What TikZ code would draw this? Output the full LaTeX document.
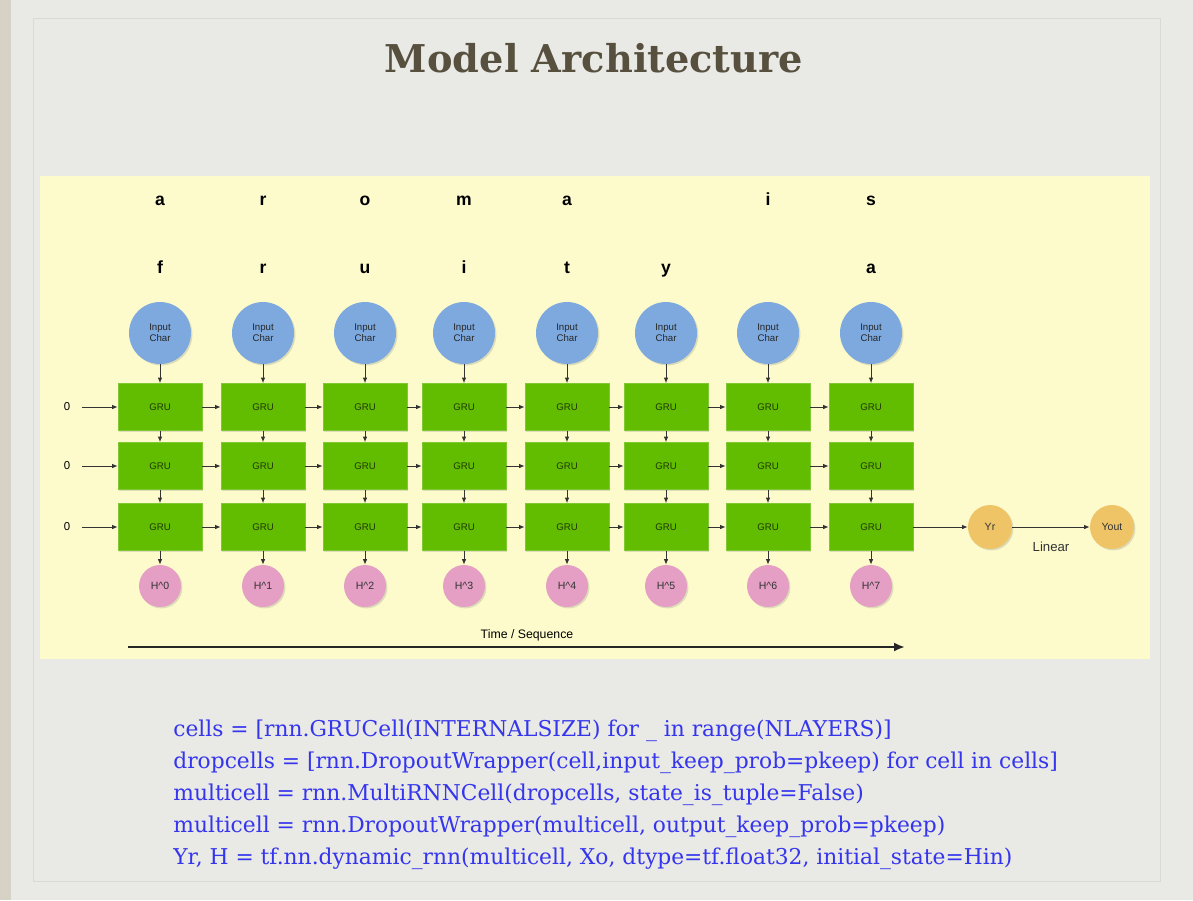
\documentclass[tikz,border=0pt]{standalone}
\usepackage{fontspec}
\setmainfont{Liberation Sans}
\newfontfamily\titlefont{DejaVu Serif}
\newfontfamily\codefont{DejaVu Serif}
\usetikzlibrary{arrows.meta,calc,positioning,shadows}

\definecolor{slidebg}{HTML}{E9E9E5}
\definecolor{slideedge}{HTML}{D6D2C6}
\definecolor{panelbg}{HTML}{FDFBCC}
\definecolor{grufill}{HTML}{62BC00}
\definecolor{grutext}{HTML}{1F3A00}
\definecolor{inblue}{HTML}{7DA9DF}
\definecolor{hpink}{HTML}{E59EC4}
\definecolor{yorange}{HTML}{EFC466}
\definecolor{titlebrown}{HTML}{57503F}
\definecolor{codeblue}{HTML}{3535EE}

\tikzset{
  soft/.style={drop shadow={opacity=0.25,shadow xshift=0.8pt,shadow yshift=-0.8pt}},
  grubox/.style={rectangle,fill=grufill,draw=grufill!80!white,soft,
    minimum width=1.68cm,minimum height=0.94cm,inner sep=0pt,
    text=grutext,font=\fontsize{5.5}{6}\selectfont},
  incirc/.style={circle,fill=inblue,soft,minimum size=1.24cm,inner sep=0pt,
    align=center,text=black!85,font=\fontsize{5.5}{6.5}\selectfont},
  hcirc/.style={circle,fill=hpink,soft,minimum size=0.84cm,inner sep=0pt,
    text=black!80,font=\fontsize{6}{7}\selectfont},
  ycirc/.style={circle,fill=yorange,soft,minimum size=0.88cm,inner sep=0pt,
    text=black!80,font=\fontsize{6}{7}\selectfont},
  letter/.style={text height=1.6ex,text depth=0.2ex,
    font=\bfseries\fontsize{10}{12}\selectfont},
  arr/.style={-{Latex[length=1.1mm,width=0.9mm]},black!80,line width=0.5pt},
  codeline/.style={anchor=west,text=codeblue,inner sep=0pt,
    font=\codefont\fontsize{12.4}{14}\selectfont}
}

\begin{document}
\begin{tikzpicture}[x=0.02cm,y=-0.02cm]
  % slide
  \fill[slidebg] (0,0) rectangle (1193,900);
  \fill[slideedge] (0,0) rectangle (11,900);
  \draw[black!15] (33,18) rectangle (1160,881);
  \node[font=\titlefont\bfseries\fontsize{21.8}{24}\selectfont,text=titlebrown] (title) at (594,58) {Model Architecture};

  % yellow panel
  \fill[panelbg] (40,176) rectangle (1150,659);

  % columns
  \foreach \i/\x/\top/\bot in {0/160/a/f,1/263/r/r,2/365/o/u,3/464/m/i,4/567/a/t,5/666/{}/y,6/768/i/{},7/871/s/a} {
    \node[letter] (top\i) at (\x,199) {\top};
    \node[letter] (bot\i) at (\x,267) {\bot};
    \node[incirc] (in\i) at (\x,333) {Input\\Char};
    \node[grubox] (g1\i) at (\x,407) {GRU};
    \node[grubox] (g2\i) at (\x,466) {GRU};
    \node[grubox] (g3\i) at (\x,527) {GRU};
    \node[hcirc] (h\i) at (\x,586) {H\textasciicircum\i};
    \draw[arr] (in\i) -- (g1\i);
    \draw[arr] (g1\i) -- (g2\i);
    \draw[arr] (g2\i) -- (g3\i);
    \draw[arr] (g3\i) -- (h\i);
  }

  % initial states
  \foreach \r/\y in {1/407,2/466,3/527} {
    \node[font=\fontsize{6.5}{7}\selectfont] (z\r) at (67,\y) {0};
    \draw[arr,shorten <=3pt] (z\r) -- (g\r0);
    \foreach \i [evaluate=\i as \j using int(\i+1)] in {0,...,6} {
      \draw[arr] (g\r\i) -- (g\r\j);
    }
  }

  % output
  \node[ycirc] (yr) at (990,527) {Yr};
  \node[ycirc] (yout) at (1112,527) {Yout};
  \draw[arr] (g37) -- (yr);
  \draw[arr] (yr) -- (yout) node[midway,below=5pt,font=\fontsize{7.5}{8}\selectfont] (lin) {Linear};

  % time axis
  \coordinate (t0) at (128,647);
  \coordinate (t1) at (905,647);
  \draw[-{Latex[length=2.2mm,width=1.8mm]},line width=1.3pt,black!85] (t0) -- (t1);
  \node[font=\fontsize{7}{8}\selectfont] (time) at (527,635) {Time / Sequence};

  % code
  \node[codeline] (c1) at (173,731) {cells = [rnn.GRUCell(INTERNALSIZE) for \_ in range(NLAYERS)]};
  \node[codeline] (c2) at (173,763) {dropcells = [rnn.DropoutWrapper(cell,input\_keep\_prob=pkeep) for cell in cells]};
  \node[codeline] (c3) at (173,795) {multicell = rnn.MultiRNNCell(dropcells, state\_is\_tuple=False)};
  \node[codeline] (c4) at (173,827) {multicell = rnn.DropoutWrapper(multicell, output\_keep\_prob=pkeep)};
  \node[codeline] (c5) at (173,859) {Yr, H = tf.nn.dynamic\_rnn(multicell, Xo, dtype=tf.float32, initial\_state=Hin)};
\end{tikzpicture}
\end{document}
